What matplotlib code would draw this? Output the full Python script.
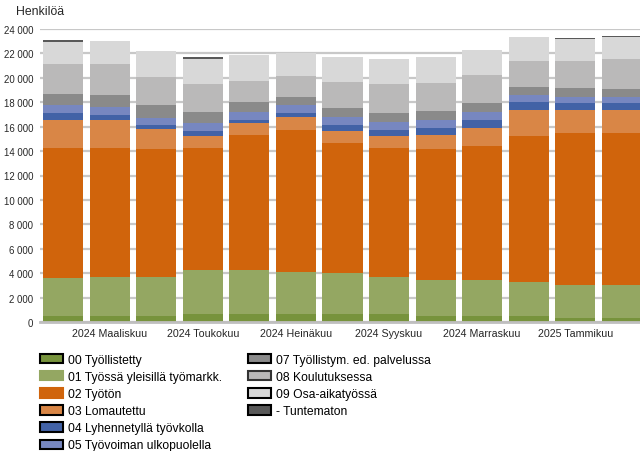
import matplotlib
matplotlib.use("Agg")
import matplotlib.pyplot as plt
from matplotlib.patches import Patch
from matplotlib.ticker import FuncFormatter, MultipleLocator
import numpy as np

plt.rcParams['font.family'] = ['Liberation Sans', 'DejaVu Sans']

months = ["2024 Helmikuu", "2024 Maaliskuu", "2024 Huhtikuu", "2024 Toukokuu",
          "2024 Kesäkuu", "2024 Heinäkuu", "2024 Elokuu", "2024 Syyskuu",
          "2024 Lokakuu", "2024 Marraskuu", "2024 Joulukuu", "2025 Tammikuu",
          "2025 Helmikuu"]

s00 = [520, 520, 520, 690, 690, 690, 690, 690, 520, 520, 520, 360, 360]
s01 = [3070, 3180, 3180, 3560, 3560, 3390, 3310, 2980, 2900, 2900, 2730, 2650, 2650]
s02 = [10680, 10570, 10490, 10020, 11070, 11650, 10680, 10600, 10770, 11020, 11980, 12470, 12470]
s03 = [2280, 2280, 1620, 970, 980, 1060, 970, 970, 1130, 1450, 2130, 1880, 1880]
s04 = [560, 400, 330, 410, 250, 330, 490, 490, 570, 650, 640, 560, 560]
s05 = [650, 640, 570, 650, 690, 640, 630, 650, 650, 640, 570, 490, 490]
s07 = [890, 970, 1050, 880, 760, 650, 750, 720, 720, 740, 640, 720, 640]
s08 = [2460, 2540, 2280, 2280, 1780, 1780, 2110, 2360, 2350, 2350, 2140, 2220, 2460]
s09 = [1860, 1920, 2140, 2080, 2050, 1860, 2060, 2060, 2060, 1970, 2000, 1840, 1840]
stun = [90, 0, 0, 150, 0, 0, 0, 0, 0, 80, 0, 80, 80]

series_names = ["00 Työllistetty", "01 Työssä yleisillä työmarkk.", "02 Työtön",
                "03 Lomautettu", "04 Lyhennetyllä työvkolla", "05 Työvoiman ulkopuolella",
                "07 Työllistym. ed. palvelussa", "08 Koulutuksessa",
                "09 Osa-aikatyössä", "- Tuntematon"]
series = [s00, s01, s02, s03, s04, s05, s07, s08, s09, stun]
colors = ["#77933C", "#94A762", "#D0640C", "#D98646", "#4262A6", "#7787C0",
          "#8A8A8A", "#BAB9B9", "#D8D8D8", "#595959"]

shown_labels = {1: "2024 Maaliskuu", 3: "2024 Toukokuu", 5: "2024 Heinäkuu",
                7: "2024 Syyskuu", 9: "2024 Marraskuu", 11: "2025 Tammikuu"}

fig = plt.figure(figsize=(6.4, 4.52), dpi=100)
ax = fig.add_axes([40/640, (452-323)/452, 605/640, 293/452])

x = np.arange(len(months))
bottom = np.zeros(len(months))
for vals, col in zip(series, colors):
    v = np.array(vals, dtype=float)
    ax.bar(x, v, bottom=bottom, width=0.86, color=col, linewidth=0, zorder=3)
    bottom += v

ax.set_xlim(-0.5, 12.5)
ax.set_ylim(0, 24000)
ax.yaxis.set_major_locator(MultipleLocator(2000))
ax.yaxis.set_major_formatter(FuncFormatter(lambda v, p: f"{int(v):,}".replace(",", " ")))
ax.grid(axis='y', color='#C8C8C8', linewidth=1.6, zorder=0)
ax.set_axisbelow(True)
for sp in ['top', 'right', 'left']:
    ax.spines[sp].set_visible(False)
ax.spines['bottom'].set_color('#BFBFBF')
ax.spines['bottom'].set_linewidth(2)
ax.spines['bottom'].set_zorder(4)
ax.set_xticks(list(shown_labels.keys()))
ax.set_xticklabels(list(shown_labels.values()), fontsize=7.7, color='#262626')
ax.tick_params(axis='x', length=0, pad=4)
ax.tick_params(axis='y', length=0, pad=5, labelsize=6.9, labelcolor='#262626')

fig.text(16/640, 1 - 12/452, "Henkilöä", fontsize=8.8, color='#262626', va='center', ha='left')

edges = ['black', '#94A762', '#D0640C', 'black', 'black', 'black',
         'black', '#333333', 'black', 'black']
handles = [Patch(facecolor=c, edgecolor=e, linewidth=1.5) for c, e in zip(colors, edges)]

leg_kw = dict(frameon=False, fontsize=8.7, handlelength=1.9, handleheight=0.8,
              handletextpad=0.4, labelspacing=0.42, borderpad=0, borderaxespad=0)
fig.legend(handles[:6], series_names[:6], loc='upper left',
           bbox_to_anchor=(40/640, 1 - 355/452), **leg_kw)
fig.legend(handles[6:], series_names[6:], loc='upper left',
           bbox_to_anchor=(248/640, 1 - 355/452), **leg_kw)

fig.savefig("out.png", dpi=100)
